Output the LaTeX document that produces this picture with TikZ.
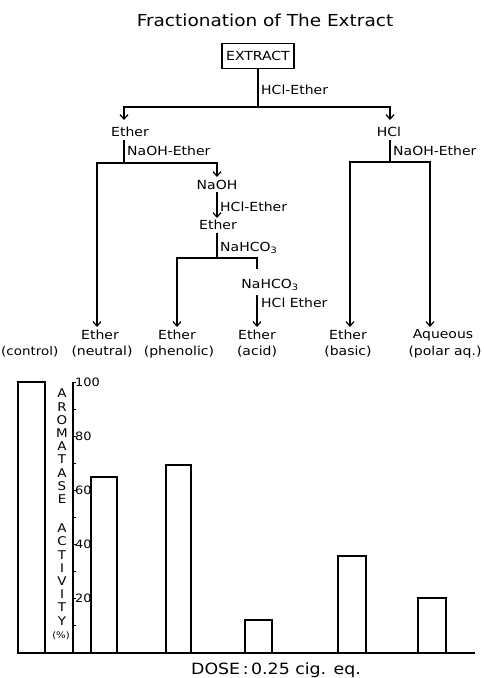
\documentclass[tikz,border=0pt]{standalone}
\usepackage{fontspec}
\setmainfont{DejaVu Sans}[FakeStretch=1.12]
\usetikzlibrary{arrows.meta}
\begin{document}
\begin{tikzpicture}[x=1pt,y=-1pt,
  ln/.style={line width=1.5pt},
  arr/.style={ln,-{Straight Barb[length=4.5pt,width=8pt,line width=1.2pt]}},
  lbl/.style={font=\fontsize{12.5}{13}\selectfont,inner sep=1pt},
  side/.style={lbl,anchor=west},
  bar/.style={line width=1.4pt},
  tick/.style={font=\fontsize{11.5}{12}\selectfont,inner sep=0pt,anchor=west}]
\useasboundingbox (0,0) rectangle (483,678);
% title
\node[font=\fontsize{16.5}{18}\selectfont] (title) at (265,20) {Fractionation of The Extract};
% tree
\node[draw,line width=1.3pt,font=\fontsize{12.5}{13}\selectfont,minimum width=72pt,minimum height=25pt,inner sep=1pt] (ext) at (258,56) {EXTRACT};
\coordinate (j1) at (258,107);
\draw[ln] (ext.south) -- (j1);
\node[side] (l1) at (260,90) {HCl-Ether};
\node[lbl] (eth1) at (130,132) {Ether};
\node[lbl] (hcl) at (389,132) {HCl};
\coordinate (a1) at (124,120);
\coordinate (a2) at (390,120);
\draw[arr] (j1) -| (a1);
\draw[arr] (j1) -| (a2);
% left branch
\coordinate (s2) at (124,140);
\coordinate (j2) at (124,163);
\draw[ln] (s2) -- (j2);
\node[side] (l2) at (126,151) {NaOH-Ether};
\node[lbl] (naoh) at (217,185) {NaOH};
\coordinate (b2) at (217,177);
\draw[arr] (j2) -| (b2);
\node[lbl] (eth2) at (218,225) {Ether};
\draw[arr] (217,192) -- (217,218);
\node[side] (l3) at (219,207) {HCl-Ether};
\coordinate (j3) at (217,258);
\draw[ln] (217,233) -- (j3);
\node[side] (l4) at (219,248) {NaHCO\textsubscript{3}};
\node[lbl] (nahco) at (270,285) {NaHCO\textsubscript{3}};
\coordinate (c2) at (257,269);
\draw[ln] (j3) -| (c2);
\node[side] (l5) at (260,303) {HCl Ether};
% right branch
\coordinate (s4) at (390,140);
\coordinate (j4) at (390,162);
\draw[ln] (s4) -- (j4);
\node[side] (l6) at (392,151) {NaOH-Ether};
% bottom labels
\node[lbl,font=\fontsize{12}{13}\selectfont,inner sep=0pt,anchor=west] (ctl) at (1,352) {(control)};
\node[lbl] (e1) at (100,335) {Ether};
\node[lbl] (e1b) at (102,352) {(neutral)};
\node[lbl] (e2) at (177,335) {Ether};
\node[lbl] (e2b) at (179,352) {(phenolic)};
\node[lbl] (e3) at (257,335) {Ether};
\node[lbl] (e3b) at (257,352) {(acid)};
\node[lbl] (e4) at (348,335) {Ether};
\node[lbl] (e4b) at (348,352) {(basic)};
\node[lbl] (e5) at (443,335) {Aqueous};
\node[lbl] (e5b) at (445,352) {(polar aq.)};
\coordinate (t1) at (97,327);
\coordinate (t2) at (177,327);
\coordinate (t3) at (257,327);
\coordinate (t4) at (350,327);
\coordinate (t5) at (430,327);
\draw[arr] (j2) -| (t1);
\draw[arr] (j3) -| (t2);
\draw[arr] (257,295) -- (t3);
\draw[arr] (j4) -| (t4);
\draw[arr] (j4) -| (t5);
% bar chart
\draw[bar] (18,653) -- (475,653);
\draw[bar] (73,382) -- (73,653);
\foreach \v in {10,20,...,100} \draw[line width=1pt] (73,653-2.71*\v) -- (76,653-2.71*\v);
\foreach \v in {20,40,60,80,100} \node[tick] at (75,653-2.71*\v) {\v};
\draw[bar] (18,653) rectangle (45,382);
\draw[bar] (91,653) rectangle (117,477);
\draw[bar] (166,653) rectangle (191,465);
\draw[bar] (245,653) rectangle (272,620);
\draw[bar] (338,653) rectangle (366,556);
\draw[bar] (418,653) rectangle (446,598);
\node[font=\fontsize{12}{13.2}\selectfont,align=center,inner sep=0pt,anchor=north] (yl) at (62,389) {A\\R\\O\\M\\A\\T\\A\\S\\E\\[16pt]A\\C\\T\\I\\V\\I\\T\\Y};
\node[font=\fontsize{9}{10}\selectfont,inner sep=0pt] (pc) at (61,636) {(\%)};
\node[font=\fontsize{15.5}{17}\selectfont] (dose) at (276,670) {DOSE\,:\,0.25 cig. eq.};
\end{tikzpicture}
\end{document}
